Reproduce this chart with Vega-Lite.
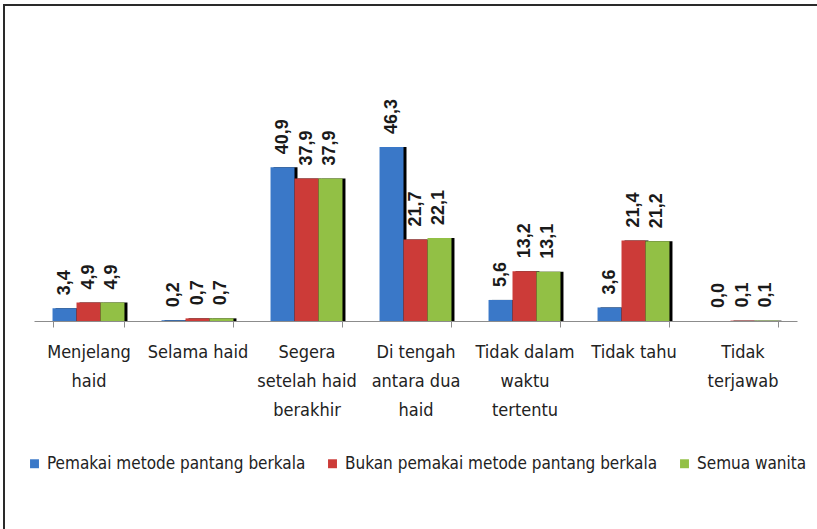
{
  "$schema": "https://vega.github.io/schema/vega-lite/v6.json",
  "width": 823,
  "height": 534,
  "autosize": {"type": "none"},
  "padding": {"left": 4, "top": 5, "right": -10, "bottom": -10},
  "background": "white",
  "config": {
    "view": {"stroke": "#2a2a2a", "strokeWidth": 2},
    "locale": {"number": {"decimal": ",", "thousands": ".", "grouping": [3], "currency": ["", ""]}}
  },
  "data": {
    "values": [
      {"kategori": "Menjelang haid", "kelompok": "Pemakai metode pantang berkala", "nilai": 3.4},
      {"kategori": "Menjelang haid", "kelompok": "Bukan pemakai metode pantang berkala", "nilai": 4.9},
      {"kategori": "Menjelang haid", "kelompok": "Semua wanita", "nilai": 4.9},
      {"kategori": "Selama haid", "kelompok": "Pemakai metode pantang berkala", "nilai": 0.2},
      {"kategori": "Selama haid", "kelompok": "Bukan pemakai metode pantang berkala", "nilai": 0.7},
      {"kategori": "Selama haid", "kelompok": "Semua wanita", "nilai": 0.7},
      {"kategori": "Segera setelah haid berakhir", "kelompok": "Pemakai metode pantang berkala", "nilai": 40.9},
      {"kategori": "Segera setelah haid berakhir", "kelompok": "Bukan pemakai metode pantang berkala", "nilai": 37.9},
      {"kategori": "Segera setelah haid berakhir", "kelompok": "Semua wanita", "nilai": 37.9},
      {"kategori": "Di tengah antara dua haid", "kelompok": "Pemakai metode pantang berkala", "nilai": 46.3},
      {"kategori": "Di tengah antara dua haid", "kelompok": "Bukan pemakai metode pantang berkala", "nilai": 21.7},
      {"kategori": "Di tengah antara dua haid", "kelompok": "Semua wanita", "nilai": 22.1},
      {"kategori": "Tidak dalam waktu tertentu", "kelompok": "Pemakai metode pantang berkala", "nilai": 5.6},
      {"kategori": "Tidak dalam waktu tertentu", "kelompok": "Bukan pemakai metode pantang berkala", "nilai": 13.2},
      {"kategori": "Tidak dalam waktu tertentu", "kelompok": "Semua wanita", "nilai": 13.1},
      {"kategori": "Tidak tahu", "kelompok": "Pemakai metode pantang berkala", "nilai": 3.6},
      {"kategori": "Tidak tahu", "kelompok": "Bukan pemakai metode pantang berkala", "nilai": 21.4},
      {"kategori": "Tidak tahu", "kelompok": "Semua wanita", "nilai": 21.2},
      {"kategori": "Tidak terjawab", "kelompok": "Pemakai metode pantang berkala", "nilai": 0.0},
      {"kategori": "Tidak terjawab", "kelompok": "Bukan pemakai metode pantang berkala", "nilai": 0.1},
      {"kategori": "Tidak terjawab", "kelompok": "Semua wanita", "nilai": 0.1}
    ]
  },
  "encoding": {
    "x": {
      "field": "kategori",
      "type": "nominal",
      "sort": null,
      "scale": {"range": [30, 793], "paddingInner": 0.34, "paddingOuter": 0.17},
      "axis": {
        "title": null,
        "orient": "bottom",
        "offset": -218,
        "labelAngle": 0,
        "labelExpr": "datum.value == 'Menjelang haid' ? ['Menjelang', 'haid'] : datum.value == 'Segera setelah haid berakhir' ? ['Segera', 'setelah haid', 'berakhir'] : datum.value == 'Di tengah antara dua haid' ? ['Di tengah', 'antara dua', 'haid'] : datum.value == 'Tidak dalam waktu tertentu' ? ['Tidak dalam', 'waktu', 'tertentu'] : datum.value == 'Tidak terjawab' ? ['Tidak', 'terjawab'] : datum.value",
        "labelFont": "DejaVu Sans Condensed, DejaVu Sans, sans-serif",
        "labelFontSize": 18,
        "labelLineHeight": 29,
        "labelColor": "#222222",
        "labelBaseline": "top",
        "labelPadding": 16,
        "labelLimit": 0,
        "domainColor": "#8c8c8c",
        "tickColor": "#8c8c8c",
        "tickSize": 6,
        "tickBand": "extent"
      }
    },
    "y": {
      "field": "nilai",
      "type": "quantitative",
      "scale": {"domain": [0, 50], "range": [316, 128]},
      "axis": null
    }
  },
  "resolve": {"scale": {"xOffset": "independent"}},
  "layer": [
    {
      "mark": {"type": "bar", "color": "#000000"},
      "encoding": {
        "xOffset": {"field": "kelompok", "sort": null, "scale": {"range": [3, 74.94]}}
      }
    },
    {
      "mark": {"type": "bar"},
      "encoding": {
        "xOffset": {"field": "kelompok", "sort": null},
        "color": {
          "field": "kelompok",
          "type": "nominal",
          "sort": null,
          "scale": {
            "domain": ["Pemakai metode pantang berkala", "Bukan pemakai metode pantang berkala", "Semua wanita"],
            "range": ["#3a78c8", "#cc3b38", "#92c045"]
          },
          "legend": {
            "title": null,
            "orient": "none",
            "legendX": 22,
            "legendY": 450,
            "direction": "horizontal",
            "symbolType": "square",
            "symbolSize": 80,
            "symbolStrokeWidth": 0,
            "labelFont": "DejaVu Sans Condensed, DejaVu Sans, sans-serif",
            "labelFontSize": 17,
            "labelColor": "#222222",
            "labelLimit": 0,
            "labelOffset": 4,
            "columnPadding": 18
          }
        }
      }
    },
    {
      "mark": {
        "type": "text",
        "angle": 270,
        "align": "left",
        "baseline": "middle",
        "dx": 13,
        "font": "Liberation Sans, Arial, sans-serif",
        "fontSize": 18,
        "fontWeight": "bold",
        "color": "#1a1a1a"
      },
      "encoding": {
        "xOffset": {"field": "kelompok", "sort": null},
        "text": {"field": "nilai", "type": "quantitative", "format": ".1f"}
      }
    }
  ]
}
